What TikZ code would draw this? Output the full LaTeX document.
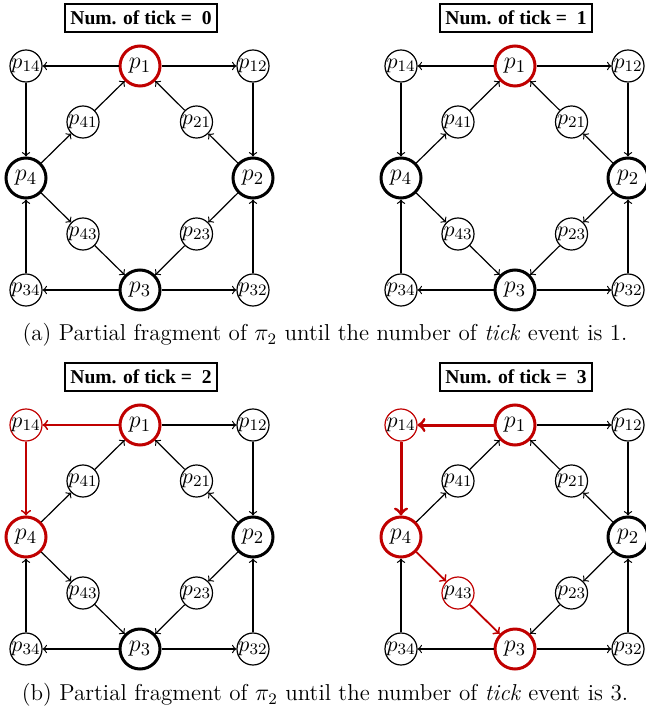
\documentclass[tikz,border=0pt]{standalone}
\usepackage{fontspec}
\newfontfamily\titlefont{Liberation Serif}
\definecolor{myred}{RGB}{192,0,0}
\tikzset{
  nsmall/.style={circle,draw,line width=0.6pt,minimum size=14.5pt,inner sep=0pt,font=\fontsize{11}{13}\selectfont},
  nbig/.style={circle,draw,line width=1.5pt,minimum size=20pt,inner sep=0pt,font=\fontsize{13}{15}\selectfont},
  nsmallred/.style={nsmall,draw=myred},
  nbigred/.style={nbig,draw=myred},
  arr/.style={->,line width=0.6pt},
  arrred/.style={->,line width=0.9pt,draw=myred},
  arrredthick/.style={->,line width=1.5pt,draw=myred},
  titlebox/.style={draw,line width=0.6pt,minimum width=76pt,minimum height=14pt,inner sep=2pt,font=\titlefont\bfseries\fontsize{9.8}{11}\selectfont},
  n1/.style={nbigred}, n2/.style={nbig}, n3/.style={nbig}, n4/.style={nbig},
  n12/.style={nsmall}, n14/.style={nsmall}, n21/.style={nsmall}, n23/.style={nsmall},
  n32/.style={nsmall}, n34/.style={nsmall}, n41/.style={nsmall}, n43/.style={nsmall},
  e114/.style={arr}, e112/.style={arr}, e144/.style={arr}, e122/.style={arr},
  e411/.style={arr}, e441/.style={arr}, e211/.style={arr}, e221/.style={arr},
  e443/.style={arr}, e433/.style={arr}, e223/.style={arr}, e233/.style={arr},
  e334/.style={arr}, e332/.style={arr}, e344/.style={arr}, e322/.style={arr}
}
\newcommand\drawpanel[5]{%
  \begin{scope}[shift={(#2,#3)},#5]
    \node[titlebox] (#1t) at (1,-48) {Num. of tick =\ \ #4};
    \node[n1] (#1p1) at (0,0) {$p_1$};
    \node[n14] (#1p14) at (-114,0) {$p_{14}$};
    \node[n12] (#1p12) at (113,0) {$p_{12}$};
    \node[n4] (#1p4) at (-114,112) {$p_4$};
    \node[n2] (#1p2) at (113,112) {$p_2$};
    \node[n3] (#1p3) at (0,224) {$p_3$};
    \node[n34] (#1p34) at (-114,224) {$p_{34}$};
    \node[n32] (#1p32) at (113,224) {$p_{32}$};
    \node[n41] (#1p41) at (-57,56) {$p_{41}$};
    \node[n21] (#1p21) at (56.5,56) {$p_{21}$};
    \node[n43] (#1p43) at (-57,168) {$p_{43}$};
    \node[n23] (#1p23) at (56.5,168) {$p_{23}$};
    \draw[e114] (#1p1) -- (#1p14);
    \draw[e112] (#1p1) -- (#1p12);
    \draw[e144] (#1p14) -- (#1p4);
    \draw[e122] (#1p12) -- (#1p2);
    \draw[e441] (#1p4) -- (#1p41);
    \draw[e411] (#1p41) -- (#1p1);
    \draw[e221] (#1p2) -- (#1p21);
    \draw[e211] (#1p21) -- (#1p1);
    \draw[e443] (#1p4) -- (#1p43);
    \draw[e433] (#1p43) -- (#1p3);
    \draw[e223] (#1p2) -- (#1p23);
    \draw[e233] (#1p23) -- (#1p3);
    \draw[e334] (#1p3) -- (#1p34);
    \draw[e332] (#1p3) -- (#1p32);
    \draw[e344] (#1p34) -- (#1p4);
    \draw[e322] (#1p32) -- (#1p2);
  \end{scope}%
}
\begin{document}
\begin{tikzpicture}[x=0.5pt,y=-0.5pt]
  \useasboundingbox (0,0) rectangle (645,715);
  \drawpanel{A}{140}{66}{0}{}
  \drawpanel{B}{515}{66}{1}{}
  \drawpanel{C}{140}{425}{2}{n14/.style={nsmallred},n4/.style={nbigred},e114/.style={arrred},e144/.style={arrred}}
  \drawpanel{D}{515}{425}{3}{n14/.style={nsmallred},n4/.style={nbigred},n43/.style={nsmallred},n3/.style={nbigred},e114/.style={arrredthick},e144/.style={arrredthick},e443/.style={arrred},e433/.style={arrred}}
  \node[font=\fontsize{11.5}{13}\selectfont] (capa) at (325,335) {(a) Partial fragment of $\pi_2$ until the number of \textit{tick} event is 1.};
  \node[font=\fontsize{11.5}{13}\selectfont] (capb) at (325,695) {(b) Partial fragment of $\pi_2$ until the number of \textit{tick} event is 3.};
\end{tikzpicture}
\end{document}
